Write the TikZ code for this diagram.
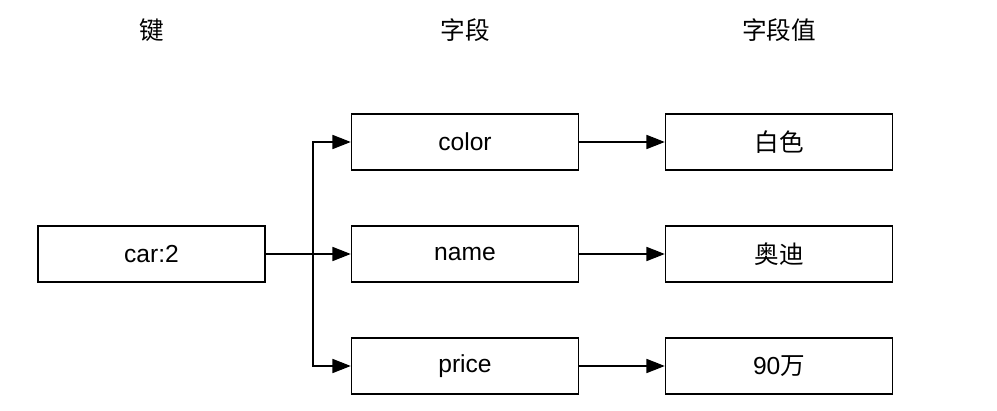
\documentclass[tikz,border=0pt]{standalone}
\usepackage{fontspec}
\setmainfont{Liberation Sans}
\newfontfamily\cjk{Noto Sans CJK SC}
\usetikzlibrary{arrows.meta}
\tikzset{
  box/.style={draw, line width=1pt, minimum width=5.675cm, minimum height=1.4cm,
              inner sep=0pt, font=\fontsize{17.5}{20}\selectfont},
  head/.style={font=\cjk\fontsize{17.5}{20}\selectfont},
  link/.style={line width=1pt, -{Triangle[length=13pt,width=10pt]}}
}
\begin{document}
\begin{tikzpicture}[x=0.025cm,y=-0.025cm]
\useasboundingbox (0,0) rectangle (997,411);
%titres
\node[head] (hkey) at (152,30) {键};
\node[head] (hfield) at (465,30) {字段};
\node[head] (hvalue) at (779,30) {字段值};
%cases
\node[box] (key) at (151.5,254) {car:2};
\node[box] (color) at (465,142) {color};
\node[box] (name) at (465,254) {name};
\node[box] (price) at (465,366) {price};
\node[box] (white) at (779,142) {\cjk 白色};
\node[box] (audi) at (779,254) {\cjk 奥迪};
\node[box] (cost) at (779,366) {90{\cjk 万}};
%fleches
\coordinate (split) at (313,254);
\draw[line width=1pt] (key.east) -- (split);
\draw[link] (split) |- (color.west);
\draw[link] (split) -- (name.west);
\draw[link] (split) |- (price.west);
\draw[link] (color) -- (white);
\draw[link] (name) -- (audi);
\draw[link] (price) -- (cost);
\end{tikzpicture}
\end{document}
